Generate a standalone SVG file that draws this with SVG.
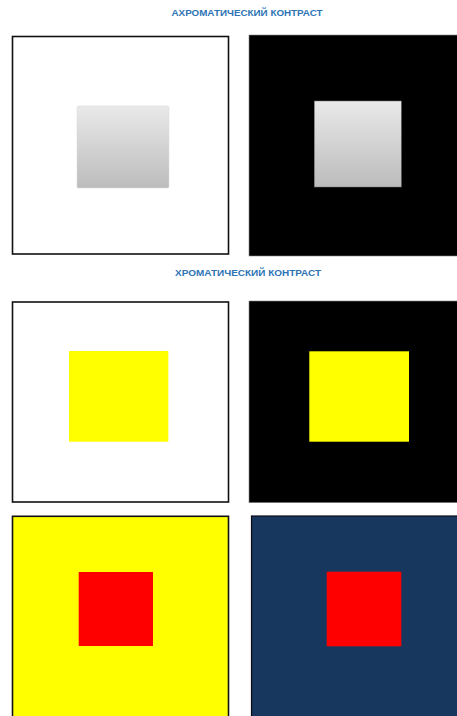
<svg xmlns="http://www.w3.org/2000/svg" width="457" height="716" viewBox="0 0 457 716">
<style>
.title{font-family:"Liberation Sans",Arial,sans-serif;font-weight:bold;font-size:9px;fill:#2e74b5;}
.frame{stroke:#111;stroke-width:1.6;}
</style>
<defs>
<linearGradient id="gray" x1="0" y1="0" x2="0" y2="1">
<stop offset="0" stop-color="#e9e9e9"/>
<stop offset="1" stop-color="#bcbcbc"/>
</linearGradient>
</defs>
<rect width="457" height="716" fill="#ffffff"/>
<text class="title" x="247" y="15.5" text-anchor="middle" textLength="151" lengthAdjust="spacingAndGlyphs">АХРОМАТИЧЕСКИЙ КОНТРАСТ</text>
<text class="title" x="248" y="275.5" text-anchor="middle" textLength="146" lengthAdjust="spacingAndGlyphs">ХРОМАТИЧЕСКИЙ КОНТРАСТ</text>
<g id="panel-white-gray">
<rect class="frame" x="12.5" y="36.5" width="216" height="217.5" fill="#ffffff"/>
<rect x="77" y="106" width="92" height="82" rx="1.5" fill="url(#gray)" stroke="#d8d8d8" stroke-width="0.5"/>
</g>
<g id="panel-black-gray">
<rect x="249" y="35" width="210" height="221" fill="#000000" stroke="#888" stroke-width="0.6"/>
<rect x="314.3" y="101" width="87" height="86" fill="url(#gray)" stroke="#777" stroke-width="0.5"/>
</g>
<g id="panel-white-yellow">
<rect class="frame" x="12.5" y="302" width="216" height="200" fill="#ffffff"/>
<rect x="69" y="351" width="99.3" height="90.7" fill="#ffff00"/>
</g>
<g id="panel-black-yellow">
<rect x="249" y="301" width="210" height="201.7" fill="#000000" stroke="#888" stroke-width="0.6"/>
<rect x="309.3" y="351.3" width="99.7" height="90.4" fill="#ffff00"/>
</g>
<g id="panel-yellow-red">
<rect class="frame" x="12.5" y="516.3" width="216" height="203" fill="#ffff00"/>
<rect x="78.7" y="572" width="74.3" height="74" fill="#ff0000"/>
</g>
<g id="panel-navy-red">
<rect x="251.5" y="516" width="210" height="203" fill="#17375e" stroke="#0a0a14" stroke-width="1.2"/>
<rect x="326.7" y="571.7" width="74.6" height="74.6" fill="#ff0000"/>
</g>
</svg>
